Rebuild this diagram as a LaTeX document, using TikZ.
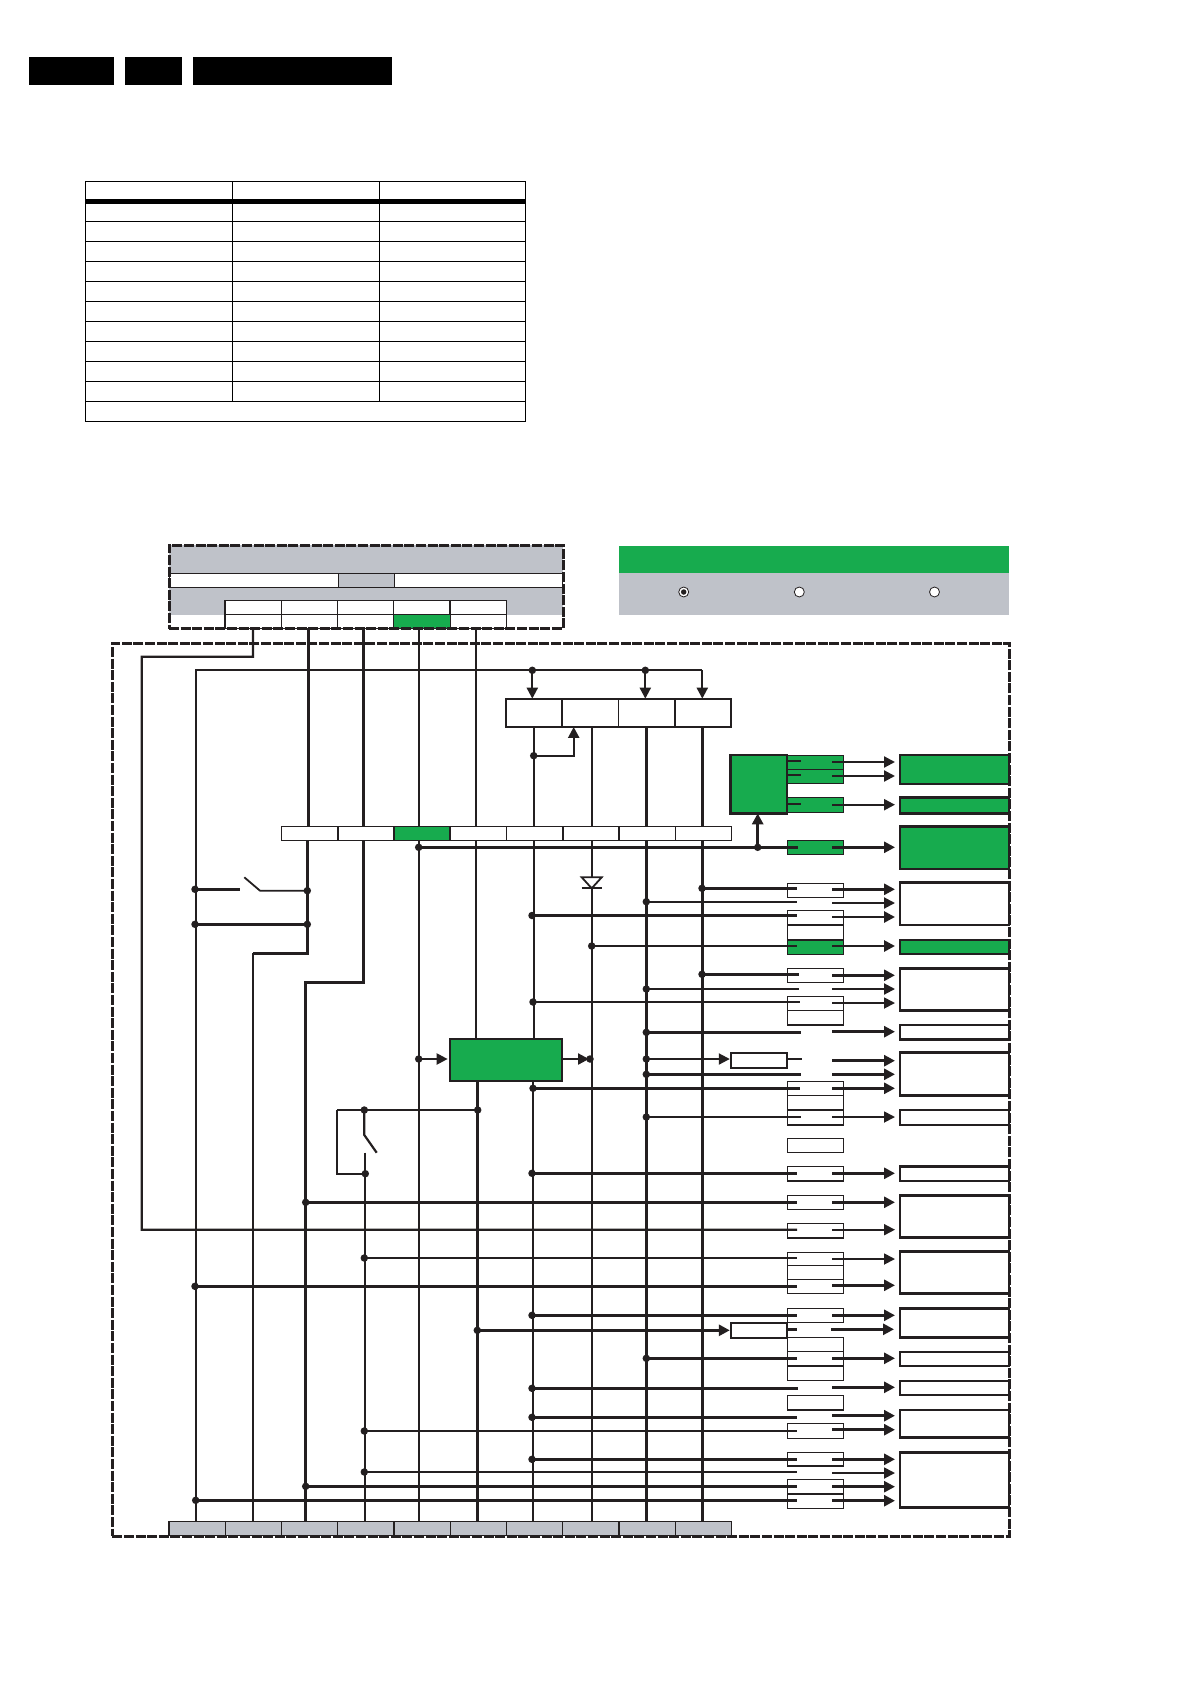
\documentclass[tikz,border=0pt]{standalone}
\usetikzlibrary{positioning,arrows.meta,calc}
\definecolor{ink}{HTML}{231F20}
\definecolor{lgreen}{HTML}{17AB4E}
\definecolor{lgray}{HTML}{BFC2C9}

\begin{document}
\begin{tikzpicture}[x=1pt,y=-1pt,line cap=butt,
  cell/.style={draw=ink,line width=1.2pt,inner sep=0pt,outer sep=0pt,minimum width=56.25pt,minimum height=14pt},
  sbox/.style={draw=ink,line width=1.1pt,inner sep=0pt,outer sep=0pt,minimum width=56.4pt},
  rblk/.style={draw=ink,line width=2.6pt,inner sep=0pt,outer sep=0pt,minimum width=109pt},
  flat/.style={inner sep=0pt,outer sep=0pt},
  frame/.style={draw=ink,line width=3pt,dash pattern=on 10pt off 1.6pt,inner sep=0pt,outer sep=0pt},
  dot/.style={circle,fill=ink,inner sep=0pt,outer sep=0pt,minimum size=7.5pt},
  radio/.style={circle,draw=ink,fill=white,line width=.8pt,inner sep=0pt,minimum size=10pt},
  ar/.style={-{Triangle[length=11pt,width=11pt]},draw=ink},
  wr/.style={draw=ink,line width=#1}]
\useasboundingbox (0,0) rectangle (1192,1685);

% page head
\foreach \n/\xa/\xb in {h0/29/114.3,h1/125/182,h2/193/392}
  \node[flat,fill=black,minimum width=(\xb-\xa)*1pt,minimum height=28pt] (\n) at ({(\xa+\xb)/2},71) {};

% table
\node[draw=black,line width=1pt,flat,minimum width=440pt,minimum height=240pt] (tbl) at (305.6,301.5) {};
\draw[black,line width=4.5pt] (tbl.west |- 0,201.5) -- (tbl.east |- 0,201.5);
\foreach \yy in {221.3,241.3,...,401.4}
  \draw[black,line width=1pt] (tbl.west |- 0,\yy) -- (tbl.east |- 0,\yy);
\foreach \xx in {232.2,379.6}
  \draw[black,line width=1pt] (\xx,0 |- tbl.north) -- (\xx,0 |- 0,401.3);

% selector panel
\node[flat,fill=lgray,minimum width=394pt,minimum height=70pt] (selbg) at (366,580) {};
\node[flat,draw=ink,line width=1pt,fill=white,minimum width=393pt,minimum height=14.5pt] (selrow) at (366,580.3) {};
\node[flat,draw=ink,line width=1pt,fill=lgray,minimum width=55.7pt,minimum height=14.5pt] (selmid) at (366.2,580.3) {};
\node[flat,fill=white,minimum width=393pt,minimum height=14pt] (selfoot) at (366,621.8) {};
\foreach \i in {0,...,4}{
  \node[cell,fill=white] (a\i) at ({253.1+56.25*\i},607.3) {};
  \node[cell,fill=white] (b\i) at ({253.1+56.25*\i},621.5) {};
}
\node[cell,fill=lgreen] (b3) at (422,621.5) {};
\node[frame,minimum width=394pt,minimum height=83.7pt] (selfr) at (366,586.9) {};

% mode panel
\node[flat,fill=lgreen,minimum width=390pt,minimum height=27.3pt] (modehd) at (814,559.7) {};
\node[flat,fill=lgray,minimum width=390pt,minimum height=41.7pt] (modebd) at (814,594.2) {};
\node[radio] (r0) at (683.7,592) {};
\node[circle,fill=ink,inner sep=0pt,minimum size=5.5pt] (r0c) at (r0) {};
\node[radio] (r1) at (799.3,592) {};
\node[radio] (r2) at (934.5,592) {};

% rows of cells
\foreach \i in {0,...,3}
  \node[cell,line width=1.8pt,minimum height=28.3pt] (p\i) at ({534.2+56.25*\i},712.8) {};
\foreach \i in {0,...,7}
  \node[cell,line width=1.4pt] (m\i) at ({309.8+56.25*\i},833.7) {};
\node[cell,line width=1.4pt,fill=lgreen] (m2) at (422,833.7) {};
\foreach \i in {0,...,9}
  \node[cell,fill=lgray] (g\i) at ({197.1+56.25*\i},1528.8) {};

% green blocks
\node[flat,draw=ink,line width=2.4pt,fill=lgreen,minimum width=56.6pt,minimum height=58.3pt] (drv) at (758.7,784.2) {};
\node[flat,draw=ink,line width=1.8pt,fill=lgreen,minimum width=112.7pt,minimum height=42pt] (hub) at (506,1060) {};

% small boxes
\foreach \n/\ya/\yb/\col in {q0/755.7/769.3/lgreen,q1/769.3/783.3/lgreen,q2/797.7/812.7/lgreen,q3/840.7/854.3/lgreen,
  q4/883.3/897.7/white,q5/910.3/925/white,q6/925/940/white,q7/940/954.3/lgreen,q8/968.7/982.3/white,
  q9/996.7/1010.7/white,q10/1010.7/1025/white,q11/1081.7/1095.7/white,q12/1095.7/1110/white,q13/1110/1125/white,
  q14/1138.7/1152.3/white,q15/1166.7/1181/white,q16/1195.7/1209.3/white,q17/1223.7/1238/white,
  q18/1252.3/1265.7/white,q19/1265.7/1279.3/white,q20/1279.3/1293.7/white,q21/1308.7/1322.7/white,
  q22/1337.3/1351.7/white,q23/1351.7/1366/white,q24/1366/1380.7/white,q25/1395.7/1410/white,
  q26/1423.7/1438.3/white,q27/1452.7/1466/white,q28/1479.7/1494/white,q29/1494/1508.3/white}
  \node[sbox,fill=\col,minimum height=(\yb-\ya)*1pt] (\n) at (815.5,{(\ya+\yb)/2}) {};
\node[sbox,line width=2.2pt,fill=white,minimum height=15.3pt] (rb0) at (759,1060.3) {};
\node[sbox,line width=2.2pt,fill=white,minimum height=14.7pt] (rb1) at (759,1330.3) {};

% right blocks
\foreach \n/\ya/\yb/\col in {u0/755/784/lgreen,u1/797.7/813.3/lgreen,u2/826.7/869/lgreen,u3/882.7/925/white,
  u4/940/954/lgreen,u5/968.7/1010.7/white,u6/1025/1039.3/white,u7/1052.7/1095.7/white,u8/1110/1125/white,
  u9/1166.7/1181/white,u10/1195.7/1237.3/white,u11/1251.7/1293.3/white,u12/1308.3/1337.3/white,
  u13/1352/1366/white,u14/1381/1395/white,u15/1410/1437.7/white,u16/1452.7/1507.7/white}
  \node[rblk,fill=\col,minimum height=(\yb-\ya)*1pt] (\n) at (954.5,{(\ya+\yb)/2}) {};

% columns
\coordinate (kb) at (307.3,953.3);
\coordinate (kb2) at (253,953.3);
\coordinate (kc) at (363.3,982.3);
\coordinate (kc2) at (305.7,982.3);
\coordinate (kd) at (419,0);
\coordinate (ke) at (476,0);
\coordinate (kf) at (533.7,0);
\coordinate (kg) at (591.7,0);
\coordinate (kh) at (646.3,0);
\coordinate (ki) at (702.3,0);

% wires from the selector
\coordinate (wa) at (253,656.7);
\coordinate (wb) at (141.7,656.7);
\coordinate (wc) at (141.7,1229.7);
\coordinate (wd) at (797,1229.7);
\coordinate (we) at (832,1229.7);
\coordinate (wf) at (895,1229.7);
\draw[wr=2.2pt] (b0.south) -- (wa) -- (wb) -- (wc) -- (wd);
\draw[ar,line width=1.8pt] (we) -- (wf);
\draw[wr=3pt] (b1.south -| 308.7,0) -- (m0.north -| 308.7,0);
\draw[wr=2.6pt] (m0.south -| kb) -- (kb) -- (kb2);
\draw[wr=2pt] (kb2) -- (g1.north -| kb2);
\draw[wr=2.6pt] (b2.south -| kc) -- (m1.north -| kc);
\draw[wr=2.6pt] (m1.south -| kc) -- (kc) -- (kc2) -- (g2.north -| kc2);
\draw[wr=2pt] (b3.south -| kd) -- (m2.north -| kd);
\draw[wr=2pt] (m2.south -| kd) -- (g4.north -| kd);
\draw[wr=2pt] (b4.south -| ke) -- (m3.north -| ke);
\draw[wr=2pt] (m3.south -| ke) -- (hub.north -| ke);
\draw[wr=2.8pt] (hub.south -| 477.7,0) -- (g5.north -| 477.7,0);

% supply bus
\coordinate (bu0) at (196,670.3);
\coordinate (bu1) at (702.3,670.3);
\node[dot] (bd0) at (532.3,670.3) {};
\node[dot] (bd1) at (645.3,670.3) {};
\draw[wr=2.2pt] (g0.north -| bu0) -- (bu0) -- (bu1);
\draw[ar,line width=2.2pt] (bu1) -- (bu1 |- p3.north);
\draw[ar,line width=2.2pt] (bd0.center) -- (bd0 |- p0.north);
\draw[ar,line width=2.2pt] (bd1.center) -- (bd1 |- p2.north);

% columns under the cells
\draw[wr=2.2pt] (p0.south -| kf) -- (m4.north -| kf);
\draw[wr=2.4pt] (p1.south -| kg) -- (m5.north -| kg);
\draw[wr=2.6pt] (p2.south -| kh) -- (m6.north -| kh);
\draw[wr=2.6pt] (p3.south -| ki) -- (m7.north -| ki);
\draw[wr=2.2pt] (m4.south -| kf) -- (hub.north -| kf);
\draw[wr=2.2pt] (hub.south -| 533,0) -- (g6.north -| 533,0);
\draw[wr=2.4pt] (m5.south -| kg) -- (g7.north -| kg);
\draw[wr=2.6pt] (m6.south -| kh) -- (g8.north -| kh);
\draw[wr=2.8pt] (m7.south -| ki) -- (g9.north -| ki);
\node[dot] (fb) at (533.7,755.7) {};
\coordinate (fc) at (573.7,755.7);
\draw[ar,line width=2.4pt] (fb.center) -- (fc) -- (fc |- p1.south);

% diode
\coordinate (dia) at (581.7,877.3);
\coordinate (dib) at (601.7,877.3);
\coordinate (dic) at (591.7,888.3);
\draw[draw=ink,fill=white,line width=1.8pt] (dia) -- (dib) -- (dic) -- cycle;
\draw[wr=2.2pt] (dia |- dic) -- (dib |- dic);

% first switch
\node[dot] (sa) at (195,889.3) {};
\node[dot] (sb) at (307.3,890.7) {};
\node[dot] (sc) at (195,924.3) {};
\node[dot] (sd) at (307.3,924.3) {};
\coordinate (se) at (240,889.3);
\coordinate (sf) at (244.3,877.3);
\coordinate (sg) at (260,890.7);
\draw[wr=2.6pt] (sa.center) -- (se);
\draw[wr=1.8pt] (sf) -- (sg) -- (sb.center);
\draw[wr=2.6pt] (sc.center) -- (sd.center);

% second switch
\node[dot] (ta) at (364.3,1110) {};
\node[dot] (tb) at (477.7,1110) {};
\node[dot] (tc) at (365.3,1173.7) {};
\coordinate (td) at (337.3,1110);
\coordinate (te) at (337.3,1173.7);
\coordinate (tf) at (364.3,1135);
\coordinate (tg) at (376.7,1152.7);
\coordinate (th) at (365.3,1152.7);
\draw[wr=1.8pt] (td) -- (tb.center);
\draw[wr=2.2pt] (td) -- (te) -- (tc.center);
\draw[wr=2.2pt] (ta.center) -- (tf) -- (tg);
\draw[wr=2.2pt] (th) -- (g3.north -| th);

% drive block
\foreach \n/\yi/\yo in {a/760.7/762,b/775.3/776,c/804/804.7}{
  \coordinate (li\n) at (800.5,\yi);
  \coordinate (ls\n) at (832,\yo);
  \coordinate (lt\n) at (895,\yo);
  \draw[wr=2pt] (drv.east |- li\n) -- (li\n);
  \draw[ar,line width=2.2pt] (ls\n) -- (lt\n);
}

% wires through the small boxes
\foreach \n/\xx/\yi/\wi/\xe/\yo/\wo in {
  0/418.7/847.3/2.6/798/847.3/2.6,
  1/702/888.3/2.8/797/889.3/2.8, 2/646.3/901.7/2/797/903/2, 3/532/915.5/2.4/797/917/2.8,
  4/591.7/946/2.8/797/946/2.8, 5/702/974.3/2.8/799/975.3/2.8, 6/646.3/989/2/799/989/2,
  7/533/1002/1.8/800/1003/1.8, 8/646.3/1032.3/2.8/801/1031.7/2.8,
  10/646.3/1074.3/2.8/801/1074.3/2.8, 11/533/1088.3/2.8/800/1088.3/2.8, 12/646.3/1117/1.8/801/1117/1.8,
  13/532/1173.3/2.8/797/1173.3/2.8, 14/305.7/1202.3/2.8/797/1202.3/2.8, 16/364.3/1258/1.8/797/1259/1.8,
  17/195/1286.3/2.8/797/1285.3/2.8, 18/532/1315.3/2.8/797/1315.3/2.8, 20/646.3/1358.3/2.8/797/1358.3/2.8,
  21/532/1388.3/2.8/798/1387.3/2.8, 22/532/1417.3/2.8/797/1415.7/2.8, 23/364.3/1431/1.8/797/1429.7/2.8,
  24/532/1459.3/2.8/797/1459.3/2.8, 25/364.3/1472/1.8/797/1473/1.8, 26/305.7/1486.3/2.8/797/1486.7/2.6,
  27/195.7/1500.3/2.8/797/1500.7/2.8}{
  \node[dot] (d\n) at (\xx,\yi) {};
  \coordinate (i\n) at (\xe,\yi);
  \coordinate (s\n) at (832,\yo);
  \coordinate (t\n) at (895,\yo);
  \draw[wr=\wi pt] (d\n.center) -- (i\n);
  \draw[ar,line width=\wo pt] (s\n) -- (t\n);
}

% wires through the white boxes
\node[dot] (d9) at (646.3,1059) {};
\coordinate (i9) at (802,1059);
\coordinate (s9) at (832,1060.7);
\coordinate (t9) at (895,1060.7);
\draw[ar,line width=2pt,shorten >=1pt] (d9.center) -- (rb0.west |- d9);
\draw[wr=2pt] (rb0.east |- i9) -- (i9);
\draw[ar,line width=2.8pt] (s9) -- (t9);
\node[dot] (d19) at (477.3,1330.3) {};
\coordinate (i19) at (797,1329.3);
\coordinate (s19) at (831,1329.3);
\coordinate (t19) at (894,1329.3);
\draw[ar,line width=2.8pt,shorten >=1pt] (d19.center) -- (rb1.west |- d19);
\draw[wr=2.6pt] (rb1.east |- i19) -- (i19);
\draw[ar,line width=2.8pt] (s19) -- (t19);

% hub connections
\node[dot] (ha) at (418.7,1059) {};
\node[dot] (hb) at (590,1059) {};
\draw[ar,line width=2.2pt,shorten >=2pt] (ha.center) -- (hub.west |- ha);
\draw[ar,line width=2.2pt,shorten >=1pt] (hub.east |- hb) -- (hb.center);

% drive feed
\node[dot] (fd) at (757.7,847.3) {};
\draw[ar,line width=2.8pt] (fd.center) -- (fd |- drv.south);

\node[frame,minimum width=897.4pt,minimum height=892.7pt] (mainfr) at (561,1089.7) {};
\end{tikzpicture}
\end{document}
